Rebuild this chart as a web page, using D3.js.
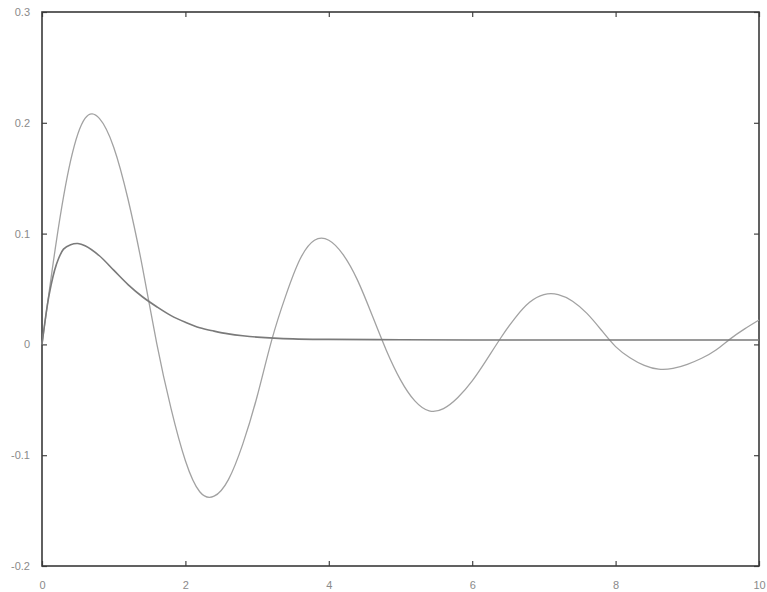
<!DOCTYPE html>
<html>
<head>
  <meta charset="utf-8">
  <script src="https://cdnjs.cloudflare.com/ajax/libs/d3/7.8.5/d3.min.js"></script>
  <style>
    body { margin: 0; background: #fff; }
    .tick text { font: 11px Arial, "Liberation Sans", sans-serif; fill: #8a8a8a; }
  </style>
</head>
<body>
<script>
// oscillating response (step 0.2)
var oscX = d3.range(0, 10.01, 0.2).map(function(v) { return +v.toFixed(1); });
var oscY = [0, 0.093, 0.166, 0.204, 0.204, 0.178, 0.131, 0.070, 0.001, -0.058,
            -0.105, -0.133, -0.137, -0.122, -0.090, -0.047, 0.003, 0.044, 0.077, 0.094,
            0.094, 0.081, 0.058, 0.027, -0.005, -0.032, -0.051, -0.060, -0.058, -0.048,
            -0.033, -0.014, 0.006, 0.024, 0.038, 0.045, 0.045, 0.039, 0.028, 0.013,
            -0.002, -0.012, -0.019, -0.0224, -0.0217, -0.018, -0.0125, -0.005, 0.005, 0.014,
            0.022];

// smooth response
var smoothX = [0, 0.1, 0.2, 0.3, 0.4, 0.5, 0.6, 0.8, 1.0, 1.2, 1.4, 1.6, 1.8, 2.0, 2.2, 2.4, 2.6, 2.8, 3.0, 3.5, 4, 5, 6, 7, 8, 9, 10];
var smoothY = [0, 0.045, 0.072, 0.086, 0.090, 0.091, 0.089, 0.080, 0.067, 0.054, 0.043, 0.034, 0.026, 0.020, 0.015, 0.012, 0.0095, 0.0078, 0.0066, 0.005, 0.0045, 0.0042, 0.004, 0.004, 0.004, 0.004, 0.004];

var xTicks = [0, 2, 4, 6, 8, 10];
var yTicks = [-0.2, -0.1, 0, 0.1, 0.2, 0.3];

var W = 767, H = 592;
var margin = {top: 12, right: 8, bottom: 26, left: 42};
var width = W - margin.left - margin.right,
    height = H - margin.top - margin.bottom;

var svg = d3.select("body").append("svg")
    .attr("width", W)
    .attr("height", H);

var g = svg.append("g")
    .attr("transform", "translate(" + margin.left + "," + margin.top + ")");

var x = d3.scaleLinear().domain([0, 10]).range([0, width]);
var y = d3.scaleLinear().domain([-0.2, 0.3]).range([height, 0]);

// plain hyphen for negatives, like the original
var yFmt = function(d) { return d === 0 ? "0" : d.toFixed(1); };

// axes with inward ticks on all four sides
var xAxis = d3.axisBottom(x).tickValues(xTicks).tickSize(-5).tickPadding(15).tickFormat(d3.format("d"));
var yAxis = d3.axisLeft(y).tickValues(yTicks).tickSize(-5).tickPadding(12).tickFormat(yFmt);

g.append("g").attr("transform", "translate(0," + height + ")").call(xAxis);
g.append("g").call(yAxis);
g.append("g").call(d3.axisTop(x).tickValues(xTicks).tickSize(-5).tickFormat(""));
g.append("g").attr("transform", "translate(" + width + ",0)")
  .call(d3.axisRight(y).tickValues(yTicks).tickSize(-5).tickFormat(""));

g.selectAll(".domain").remove();
g.selectAll(".tick line").attr("stroke", "#444").attr("stroke-width", 1.2);

g.append("rect")
  .attr("width", width).attr("height", height)
  .attr("fill", "none").attr("stroke", "#3a3a3a").attr("stroke-width", 1.6);

var line = d3.line()
  .x(function(d) { return x(d[0]); })
  .y(function(d) { return y(d[1]); })
  .curve(d3.curveCatmullRom.alpha(0.5));

g.append("path")
  .datum(oscX.map(function(v, i) { return [v, oscY[i]]; }))
  .attr("d", line.curve(d3.curveNatural))
  .attr("fill", "none").attr("stroke", "#a2a2a2").attr("stroke-width", 1.3);

g.append("path")
  .datum(smoothX.map(function(v, i) { return [v, smoothY[i]]; }))
  .attr("d", line.curve(d3.curveCatmullRom.alpha(0.5)))
  .attr("fill", "none").attr("stroke", "#7a7a7a").attr("stroke-width", 1.6);
</script>
</body>
</html>
